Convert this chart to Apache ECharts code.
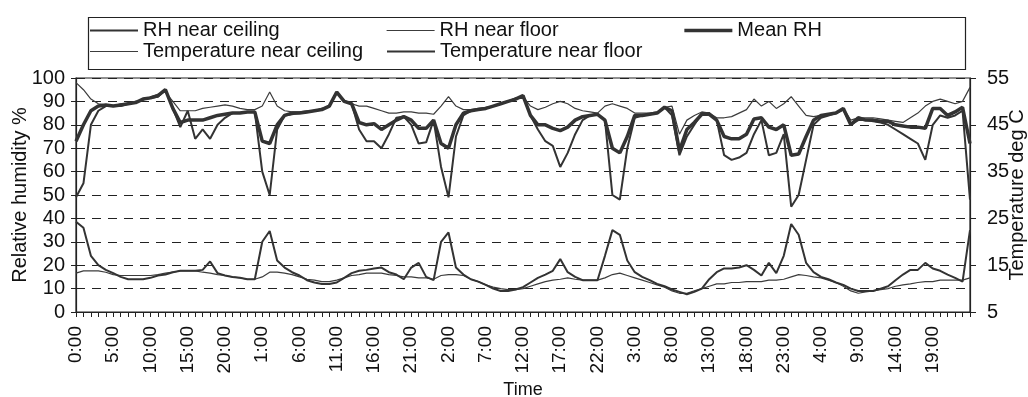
<!DOCTYPE html>
<html>
<head>
<meta charset="utf-8">
<title>Relative humidity and temperature</title>
<script src="https://cdn.jsdelivr.net/npm/echarts@6/dist/echarts.min.js"></script>
<style>
  html, body { margin: 0; padding: 0; background: #fff; }
  #chart { width: 1028px; height: 397px; }
</style>
</head>
<body>
<div id="chart"></div>
<script>
  // hourly readings, 0:00 on day 1 to 0:00 on day 6
  var hours = [
    '0:00','1:00','2:00','3:00','4:00','5:00','6:00','7:00','8:00','9:00','10:00','11:00',
    '12:00','13:00','14:00','15:00','16:00','17:00','18:00','19:00','20:00','21:00','22:00','23:00',
    '0:00','1:00','2:00','3:00','4:00','5:00','6:00','7:00','8:00','9:00','10:00','11:00',
    '12:00','13:00','14:00','15:00','16:00','17:00','18:00','19:00','20:00','21:00','22:00','23:00',
    '0:00','1:00','2:00','3:00','4:00','5:00','6:00','7:00','8:00','9:00','10:00','11:00',
    '12:00','13:00','14:00','15:00','16:00','17:00','18:00','19:00','20:00','21:00','22:00','23:00',
    '0:00','1:00','2:00','3:00','4:00','5:00','6:00','7:00','8:00','9:00','10:00','11:00',
    '12:00','13:00','14:00','15:00','16:00','17:00','18:00','19:00','20:00','21:00','22:00','23:00',
    '0:00','1:00','2:00','3:00','4:00','5:00','6:00','7:00','8:00','9:00','10:00','11:00',
    '12:00','13:00','14:00','15:00','16:00','17:00','18:00','19:00','20:00','21:00','22:00','23:00',
    '0:00'
  ];

  // relative humidity, %
  var rhCeiling = [
    49, 55, 80, 86, 88, 88, 88, 89, 89.5, 91, 91.5, 92, 95, 87, 79, 86, 74, 78, 74, 80,
    83, 85, 85, 85.5, 85.5, 60, 50, 78, 84, 84.5, 85, 85.5, 86, 86.5, 88, 94, 90, 89, 78, 73,
    73, 70, 76, 83, 83.5, 80, 72, 72.5, 82, 62, 49, 75, 84, 86, 86.5, 87, 88, 89, 90, 91,
    92.5, 84, 78, 73, 71, 62, 68, 76, 82, 84, 84.5, 82, 50, 48, 70, 83, 84, 84.5, 85, 87.5,
    84, 67, 75, 80, 85, 85, 82, 67, 65, 66, 68, 76, 82, 67, 68, 76, 45, 50, 65, 80,
    83, 84, 85, 86.5, 80, 82, 82, 81.5, 81, 80, 78, 76, 74, 72, 65, 80, 84, 83, 84, 86,
    48
  ];
  var rhFloor = [
    98, 95, 91, 89, 88.5, 88, 89, 89, 90, 90.5, 92, 93, 94, 90, 86, 86, 86, 87, 87.5, 88,
    88.5, 88, 87, 86.5, 86.5, 88, 94, 88, 86, 85.5, 85.5, 86, 86, 87, 88, 94, 90.5, 89, 88, 88,
    87, 86, 85, 85, 85.5, 85.5, 85, 85, 84.5, 88, 92, 88, 86.5, 86.5, 87, 87.5, 88, 89, 90, 91.5,
    92, 88, 86.5, 87.5, 89, 90, 89, 87, 86, 85.5, 85, 88, 89, 88, 87, 85, 85, 85, 85.5, 87.5,
    88, 76, 82, 84, 85.5, 85, 83, 83, 83.5, 85, 86.5, 91, 88, 90, 87, 89, 92, 88, 84, 83.5,
    84, 84.5, 85, 87, 82, 83, 83, 83, 82.5, 82, 81.5, 81, 83, 85, 88, 90, 91, 90, 89, 90,
    96
  ];
  var rhMean = [
    73, 80, 86, 88, 88.5, 88, 88.5, 89, 89.5, 91, 91.5, 92.5, 95, 87, 81, 82, 82, 82, 83, 84,
    84.5, 85, 85, 85.5, 85.5, 73, 72, 80, 84, 85, 85, 85.5, 86, 86.5, 88, 94, 90, 89, 81, 80,
    80.5, 78, 80, 82, 83.5, 82, 78.5, 78.5, 82, 72, 70, 80, 85, 86, 86.5, 87, 88, 89, 90, 91,
    92.5, 84, 80, 80, 78.5, 77.5, 79, 82, 83.5, 84, 84.5, 82, 70, 68, 75, 84, 84, 84.5, 85, 87.5,
    86, 69, 78, 81, 84.5, 84.5, 82, 75, 74, 74, 76, 82.5, 83, 79, 78, 80, 67, 67.5, 75, 82,
    84, 84.5, 85, 87, 80, 83, 82, 82, 81.5, 81.5, 80, 79.5, 79, 79, 78.5, 87, 87, 84, 85.5, 87.5,
    72
  ];

  // temperature, deg C
  var tempCeiling = [
    13.3, 13.8, 13.8, 13.8, 13.5, 13, 12.8, 12.8, 12.8, 12.8, 12.8, 13, 13.3, 13.5, 13.8, 13.8, 13.8, 13.5, 13.3, 13,
    12.8, 12.5, 12.3, 12, 12, 12.5, 13.5, 13.5, 13.3, 13, 12.5, 12, 11.8, 11.5, 11.5, 11.8, 12.3, 12.8, 13, 13.3,
    13.3, 13.3, 13, 12.8, 12.5, 12.5, 12.3, 12.3, 12, 12.8, 13, 13, 12.8, 12, 11.5, 10.8, 10.3, 10, 9.8, 9.8,
    10, 10.5, 11, 11.5, 11.8, 12, 12.3, 12, 11.8, 11.8, 11.8, 12.3, 13, 13.3, 12.8, 12.3, 11.8, 11.3, 10.8, 10.3,
    9.5, 9, 9, 9.5, 10, 10.5, 11, 11, 11.3, 11.3, 11.5, 11.5, 11.5, 11.8, 11.8, 12, 12.5, 13, 12.8, 12.5,
    12.3, 11.8, 11.3, 10.5, 9.5, 9, 9.3, 9.5, 9.8, 10, 10.5, 10.8, 11, 11.3, 11.5, 11.5, 11.8, 11.8, 11.8, 11.8,
    12.3
  ];
  var tempFloor = [
    24.3, 23, 17, 15, 14, 13.3, 12.5, 12, 12, 12, 12.3, 12.8, 13, 13.5, 13.8, 13.8, 13.8, 14, 15.8, 13.3,
    12.8, 12.5, 12.3, 12, 12, 20, 22.3, 16, 14.5, 13.5, 12.8, 11.8, 11.3, 11, 11, 11.3, 12.3, 13.3, 13.8, 14,
    14.3, 14.5, 13.5, 13, 12, 14.5, 15.5, 12.5, 11.8, 20, 22, 14.5, 13, 12, 11.5, 10.8, 10, 9.5, 9.5, 9.8,
    10.3, 11.3, 12.3, 13, 13.8, 16.3, 13.5, 12.5, 11.8, 11.8, 11.8, 17, 22.5, 21.5, 16, 13.5, 12.5, 11.8, 11, 10.5,
    9.8, 9.3, 8.8, 9.3, 10, 12, 13.5, 14.3, 14.3, 14.5, 15, 14, 12.8, 15.5, 13.3, 17, 23.8, 21.5, 15.5, 13.5,
    12.5, 12, 11.3, 10.8, 10, 9.5, 9.5, 9.5, 10, 10.5, 11.8, 13, 14, 14, 15.5, 14.3, 13.8, 13, 12.3, 11.5,
    22.5
  ];

  var rhTicks = [0, 10, 20, 30, 40, 50, 60, 70, 80, 90, 100];
  var tempTicks = [5, 15, 25, 35, 45, 55];

  var lineColor = '#333';
  var thinColor = '#3c3c3c';
  var textColor = '#111';
  var fontFamily = '"Liberation Sans", Arial, sans-serif';

  var myChart = echarts.init(document.getElementById('chart'));
  myChart.setOption({
    backgroundColor: '#fff',
    animation: false,
    textStyle: { fontFamily: fontFamily, color: textColor },
    // box round the legend
    graphic: [{
      type: 'rect',
      left: 86,
      top: 15,
      shape: { width: 877, height: 52 },
      style: { fill: 'none', stroke: '#222', lineWidth: 1.2 }
    }],
    legend: {
      left: 89,
      top: 20,
      width: 900,
      itemWidth: 48,
      itemHeight: 12,
      itemGap: 0,
      padding: 0,
      // hide the dot that line series put on their legend line
      itemStyle: { color: 'transparent', borderColor: 'transparent' },
      data: [
        { name: 'RH near ceiling', lineStyle: { color: lineColor, width: 2 } },
        { name: 'RH near floor', lineStyle: { color: thinColor, width: 1.2 } },
        { name: 'Mean RH', lineStyle: { color: lineColor, width: 3.5 } },
        { name: 'Temperature near ceiling', lineStyle: { color: thinColor, width: 1.2 } },
        { name: 'Temperature near floor', lineStyle: { color: lineColor, width: 2 } }
      ],
      textStyle: {
        fontFamily: fontFamily,
        fontSize: 20,
        color: textColor,
        width: 243,
        lineHeight: 21,
        overflow: 'truncate'
      }
    },
    grid: {
      left: 76,
      right: 58,
      top: 78,
      bottom: 85,
      outerBoundsMode: 'none',
      show: true,
      borderColor: '#222',
      borderWidth: 1.2
    },
    xAxis: [{
      type: 'category',
      boundaryGap: false,
      data: hours,
      name: 'Time',
      nameLocation: 'middle',
      nameGap: 62,
      nameTextStyle: { fontFamily: fontFamily, fontSize: 18, color: textColor },
      axisLine: { lineStyle: { color: '#222', width: 1.2 } },
      axisTick: { interval: 0, length: 5, lineStyle: { color: '#222' } },
      axisLabel: {
        interval: function (index) { return index % 5 === 0 && index < 120; },
        rotate: 90,
        fontSize: 19,
        color: textColor,
        margin: 14,
        fontFamily: fontFamily
      },
      splitLine: { show: false }
    }],
    yAxis: [{
      type: 'value',
      min: rhTicks[0],
      max: rhTicks[rhTicks.length - 1],
      interval: 10,
      name: 'Relative humidity %',
      nameLocation: 'middle',
      nameRotate: 90,
      nameGap: 46,
      nameMoveOverlap: false,
      nameTextStyle: { fontFamily: fontFamily, fontSize: 20, color: textColor },
      axisLine: { show: true, lineStyle: { color: '#222', width: 1.2 } },
      axisTick: { show: true, length: 5, lineStyle: { color: '#222' } },
      axisLabel: { fontSize: 20, color: textColor, margin: 11, fontFamily: fontFamily },
      splitLine: { show: true, lineStyle: { color: '#222', type: [9, 7], width: 1.1 } }
    }, {
      type: 'value',
      min: tempTicks[0],
      max: tempTicks[tempTicks.length - 1],
      interval: 10,
      name: 'Temperature deg C',
      nameLocation: 'middle',
      nameRotate: 90,
      nameGap: 37,
      nameMoveOverlap: false,
      nameTextStyle: { fontFamily: fontFamily, fontSize: 20, color: textColor },
      axisLine: { show: true, lineStyle: { color: '#222', width: 1.2 } },
      axisTick: { show: true, length: 6, lineStyle: { color: '#222' } },
      axisLabel: { fontSize: 20, color: textColor, margin: 17, fontFamily: fontFamily },
      splitLine: { show: false }
    }],
    series: [{
      name: 'RH near ceiling',
      type: 'line',
      symbol: 'none',
      lineStyle: { color: lineColor, width: 2 },
      itemStyle: { color: lineColor },
      data: rhCeiling
    }, {
      name: 'RH near floor',
      type: 'line',
      symbol: 'none',
      lineStyle: { color: thinColor, width: 1.2 },
      itemStyle: { color: thinColor },
      data: rhFloor
    }, {
      name: 'Mean RH',
      type: 'line',
      symbol: 'none',
      lineStyle: { color: lineColor, width: 3.5 },
      itemStyle: { color: lineColor },
      data: rhMean
    }, {
      name: 'Temperature near ceiling',
      type: 'line',
      symbol: 'none',
      yAxisIndex: 1,
      lineStyle: { color: thinColor, width: 1.2 },
      itemStyle: { color: thinColor },
      data: tempCeiling
    }, {
      name: 'Temperature near floor',
      type: 'line',
      symbol: 'none',
      yAxisIndex: 1,
      lineStyle: { color: lineColor, width: 2 },
      itemStyle: { color: lineColor },
      data: tempFloor
    }]
  });
</script>
</body>
</html>
